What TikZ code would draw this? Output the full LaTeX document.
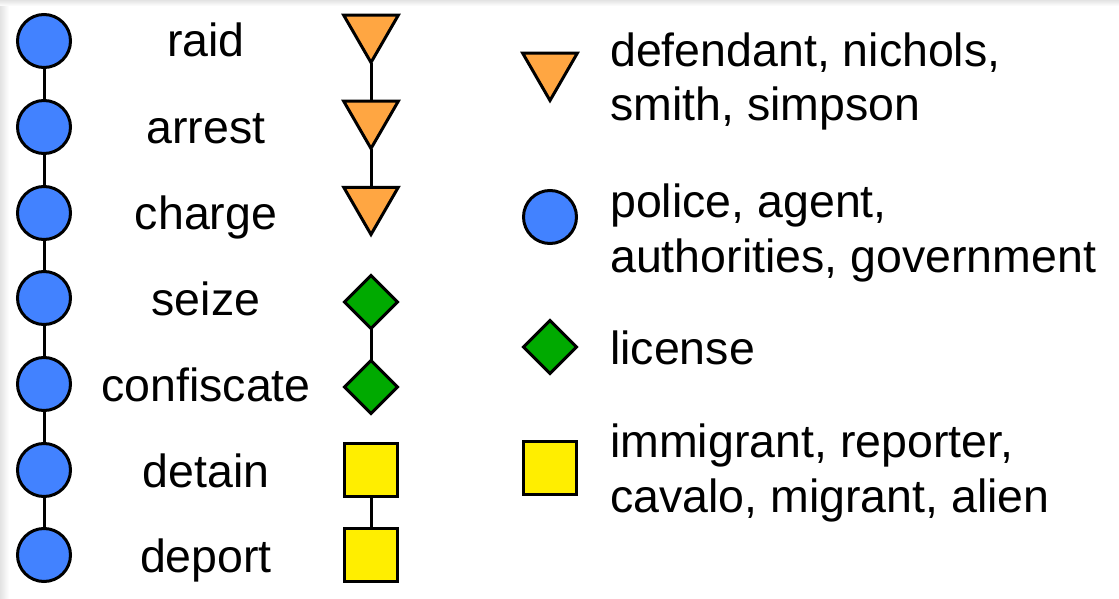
\documentclass[tikz,border=0pt]{standalone}
\usepackage{fontspec}
\setmainfont{Liberation Sans}
\usetikzlibrary{shapes.geometric,backgrounds}
\definecolor{cblue}{RGB}{66,130,255}
\definecolor{corange}{RGB}{255,166,66}
\definecolor{cgreen}{RGB}{0,170,0}
\definecolor{cyellow}{RGB}{255,238,0}
\tikzset{
  sym/.style={draw=black, line width=3pt, inner sep=0pt, outer sep=0pt},
  circ/.style={sym, circle, fill=cblue, minimum size=53pt},
  tri/.style={sym, regular polygon, regular polygon sides=3, shape border rotate=180, fill=corange, minimum size=63pt},
  dia/.style={sym, diamond, fill=cgreen, minimum size=53pt, aspect=1},
  sq/.style={sym, rectangle, fill=cyellow, minimum size=53pt},
  link/.style={draw=black, line width=3pt},
  lbl/.style={font=\fontsize{46.5}{54}\selectfont, inner sep=0pt, anchor=base},
  leg/.style={font=\fontsize{46.5}{54.5}\selectfont, inner sep=0pt, anchor=base west, align=left},
}
\begin{document}
\begin{tikzpicture}[x=1pt,y=-1pt]
\useasboundingbox (0,0) rectangle (1119,599);
% left column circles
\foreach \i/\y in {1/41,2/127,3/213,4/298,5/384,6/470,7/555}{
  \node[circ] (c\i) at (44,\y) {};
}
% labels
\node[lbl] (l1) at (206,57) {raid};
\node[lbl] (l2) at (206,143) {arrest};
\node[lbl] (l3) at (206,229) {charge};
\node[lbl] (l4) at (206,315) {seize};
\node[lbl] (l5) at (206,401) {confiscate};
\node[lbl] (l6) at (206,487) {detain};
\node[lbl] (l7) at (206,572) {deport};
% right column symbols
\node[tri] (t1) at (371,31) {};
\node[tri] (t2) at (371,117) {};
\node[tri] (t3) at (371,203) {};
\node[dia] (d1) at (371,302) {};
\node[dia] (d2) at (371,387) {};
\node[sq] (s1) at (371,470) {};
\node[sq] (s2) at (371,555) {};
% legend
\node[tri] (lt) at (550,69) {};
\node[circ] (lc) at (550,217) {};
\node[dia] (ld) at (550,347) {};
\node[sq] (ls) at (550,468) {};
\node[leg] (lt-text) at (610,121) {defendant, nichols,\\smith, simpson};
\node[leg] (lc-text) at (610,272) {police, agent,\\authorities, government};
\node[leg] (ld-text) at (610,364) {license};
\node[leg] (ls-text) at (610,512) {immigrant, reporter,\\cavalo, migrant, alien};
\begin{scope}[on background layer]
  \fill[white] (0,0) rectangle (1119,599);
  \shade[left color=gray!22, right color=white] (0,0) rectangle (9,599);
  \shade[top color=gray!22, bottom color=white] (0,0) rectangle (1119,6);
  \draw[link] (c1) -- (c2) -- (c3) -- (c4) -- (c5) -- (c6) -- (c7);
  \draw[link] (t1) -- (t2) -- (t3);
  \draw[link] (d1) -- (d2);
  \draw[link] (s1) -- (s2);
\end{scope}
\end{tikzpicture}
\end{document}
